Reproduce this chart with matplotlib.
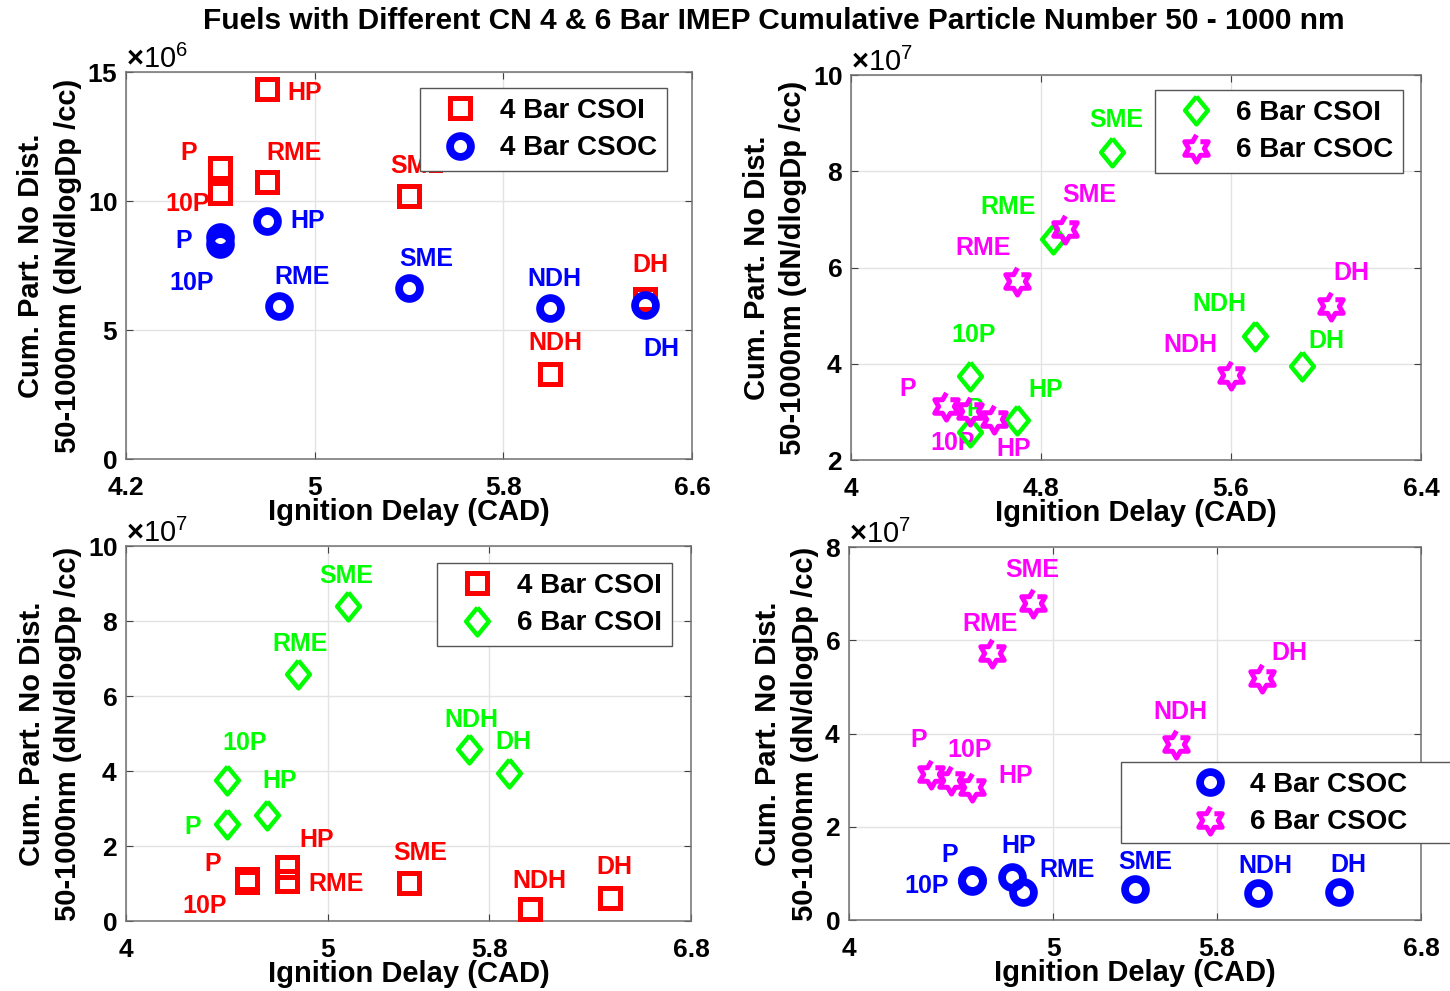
import numpy as np
import matplotlib
matplotlib.use('Agg')
import matplotlib.pyplot as plt
from matplotlib.patches import Rectangle

plt.rcParams['font.family'] = ['Liberation Sans', 'DejaVu Sans']
plt.rcParams['font.weight'] = 'bold'
plt.rcParams['mathtext.fontset'] = 'custom'
plt.rcParams['mathtext.rm'] = 'Liberation Sans'

# combustiveis (mesma ordem em todas as series)
fuels = ['P', '10P', 'HP', 'RME', 'SME', 'NDH', 'DH']

# atraso de ignicao (CAD) e numero de particulas (dN/dlogDp /cc)
id_4csoi = [4.60, 4.60, 4.80, 4.80, 5.40, 6.00, 6.40]
pn_4csoi = [1.127e7, 1.033e7, 1.433e7, 1.075e7, 1.019e7, 0.330e7, 0.620e7]

id_4csoc = [4.60, 4.60, 4.80, 4.85, 5.40, 6.00, 6.40]
pn_4csoc = [0.860e7, 0.835e7, 0.922e7, 0.592e7, 0.662e7, 0.584e7, 0.597e7]

id_6csoi = [4.50, 4.50, 4.70, 4.85, 5.10, 5.70, 5.90]
pn_6csoi = [2.58e7, 3.75e7, 2.83e7, 6.60e7, 8.41e7, 4.58e7, 3.96e7]

id_6csoc = [4.40, 4.50, 4.60, 4.70, 4.90, 5.60, 6.02]
pn_6csoc = [3.13e7, 3.01e7, 2.86e7, 5.72e7, 6.81e7, 3.77e7, 5.20e7]

series = {
    '4 Bar CSOI': (id_4csoi, pn_4csoi),
    '4 Bar CSOC': (id_4csoc, pn_4csoc),
    '6 Bar CSOI': (id_6csoi, pn_6csoi),
    '6 Bar CSOC': (id_6csoc, pn_6csoc),
}

# posicao dos rotulos de texto (x, y) em cada painel, mesma ordem de fuels
lab1_4csoi = [(4.43, 11.86e6), (4.365, 9.88e6), (4.886, 14.19e6), (4.797, 11.86e6),
              (5.319, 11.36e6), (5.907, 4.50e6), (6.348, 7.52e6)]
lab1_4csoc = [(4.41, 8.45e6), (4.386, 6.82e6), (4.899, 9.22e6), (4.83, 7.05e6),
              (5.357, 7.75e6), (5.903, 6.98e6), (6.395, 4.26e6)]
lab2_6csoi = [(4.485, 3.06e7), (4.421, 4.60e7), (4.745, 3.46e7), (4.543, 7.26e7),
              (5.002, 9.07e7), (5.436, 5.24e7), (5.924, 4.47e7)]
lab2_6csoc = [(4.202, 3.48e7), (4.333, 2.35e7), (4.61, 2.23e7), (4.438, 6.41e7),
              (4.888, 7.51e7), (5.314, 4.39e7), (6.03, 5.89e7)]
lab3_4csoi = [(4.387, 1.52e7), (4.277, 0.40e7), (4.857, 2.16e7), (4.902, 0.99e7),
              (5.323, 1.81e7), (5.913, 1.07e7), (6.329, 1.44e7)]
lab3_6csoi = [(4.29, 2.51e7), (4.476, 4.75e7), (4.674, 3.73e7), (4.723, 7.39e7),
              (4.956, 9.20e7), (5.576, 5.36e7), (5.829, 4.77e7)]
lab4_4csoc = [(4.45, 1.39e7), (4.27, 0.73e7), (4.744, 1.59e7), (4.93, 1.07e7),
              (5.317, 1.24e7), (5.904, 1.16e7), (6.354, 1.18e7)]
lab4_6csoc = [(4.299, 3.86e7), (4.48, 3.65e7), (4.729, 3.09e7), (4.553, 6.35e7),
              (4.764, 7.51e7), (5.488, 4.46e7), (6.07, 5.73e7)]

# marcadores estilo MATLAB
ang = np.deg2rad(np.arange(12) * 30 + 90)
rad = np.where(np.arange(12) % 2 == 0, 1.0, 1 / np.sqrt(3))
hexagram = np.column_stack([rad * np.cos(ang), rad * np.sin(ang)])
diamond = [(0, 1), (0.82, 0), (0, -1), (-0.82, 0), (0, 1)]

styles = {
    '4 Bar CSOI': dict(marker='s', ms=14.5, mew=3.6, color=(1, 0, 0)),
    '4 Bar CSOC': dict(marker='o', ms=15, mew=5.6, color=(0, 0, 1)),
    '6 Bar CSOI': dict(marker=diamond, ms=20, mew=3.2, color=(0, 1, 0)),
    '6 Bar CSOC': dict(marker=hexagram, ms=19.5, mew=3.6, color=(1, 0, 1)),
}

fig = plt.figure(figsize=(14.5, 9.91), dpi=100)
fig.text(0.534, 0.979, 'Fuels with Different CN 4 & 6 Bar IMEP Cumulative Particle Number 50 - 1000 nm',
         ha='center', va='center', fontsize=21.5, fontweight='bold')

ylab = 'Cum. Part. No Dist.\n50-1000nm (dN/dlogDp /cc)'


def painel(rect, names, labs, xlim, xticks, ylim, yticks, order, leg, caixa=None):
    ax = fig.add_axes(rect)
    lines = []
    for nm, lb in zip(names, labs):
        x, y = series[nm]
        st = styles[nm]
        ln, = ax.plot(x, y, linestyle='none', marker=st['marker'], markersize=st['ms'],
                      markeredgewidth=st['mew'], markeredgecolor=st['color'],
                      markerfacecolor='none', label=nm, zorder=4)
        lines.append(ln)
        for f, (tx, ty) in zip(fuels, lb):
            ax.text(tx, ty, f, color=st['color'], fontsize=18, fontweight='bold',
                    ha='left', va='center', zorder=3)
    ax.set_xlim(xlim)
    ax.set_ylim(ylim)
    ax.set_xticks(xticks)
    ax.set_xticklabels([f'{v:g}' for v in xticks])
    ax.set_yticks(yticks)
    ax.ticklabel_format(axis='y', style='sci', scilimits=(order, order), useMathText=True)
    ot = ax.yaxis.get_offset_text()
    ot.set_fontsize(21)
    ot.set_fontweight('normal')
    ax.grid(True, color='#e3e3e3', linewidth=1.0)
    ax.set_axisbelow(True)
    ax.tick_params(direction='in', top=True, right=True, length=5, width=0.8,
                   color='#404040', labelsize=19)
    ax.tick_params(axis='x', pad=12)
    ax.tick_params(axis='y', pad=6)
    for s in ax.spines.values():
        s.set_color('#707070')
        s.set_linewidth(1.1)
    ax.set_xlabel('Ignition Delay (CAD)', fontsize=21, fontweight='bold', labelpad=-1)
    ax.set_ylabel(ylab, fontsize=21, fontweight='bold', labelpad=4, linespacing=1.38)
    if caixa is not None:
        # moldura da legenda que passa da borda da figura (como no original)
        ax.add_patch(Rectangle((caixa[0], caixa[1]), caixa[2], caixa[3], transform=ax.transAxes,
                               facecolor='white', edgecolor='#555555', linewidth=1.0,
                               clip_on=False, zorder=5))
    lg = ax.legend(handles=lines, prop={'size': 20, 'weight': 'bold'}, fancybox=False,
                   framealpha=1, edgecolor='#555555', borderaxespad=0, borderpad=0.35,
                   labelspacing=0.42, handlelength=2.2, handletextpad=0.35,
                   frameon=caixa is None, **leg)
    lg.get_frame().set_linewidth(1.0)
    lg.set_zorder(6)
    return ax


painel([0.0869, 0.5368, 0.3903, 0.3905], ['4 Bar CSOI', '4 Bar CSOC'], [lab1_4csoi, lab1_4csoc],
       (4.2, 6.6), [4.2, 5, 5.8, 6.6], (0, 15e6), [0, 5e6, 10e6, 15e6], 6,
       dict(loc='upper right', bbox_to_anchor=(0.956, 0.959)))

painel([0.5869, 0.5358, 0.3931, 0.3885], ['6 Bar CSOI', '6 Bar CSOC'], [lab2_6csoi, lab2_6csoc],
       (4.0, 6.4), [4, 4.8, 5.6, 6.4], (2e7, 10e7), [2e7, 4e7, 6e7, 8e7, 10e7], 7,
       dict(loc='upper right', bbox_to_anchor=(0.968, 0.961)))

painel([0.0869, 0.0706, 0.3897, 0.3784], ['4 Bar CSOI', '6 Bar CSOI'], [lab3_4csoi, lab3_6csoi],
       (4.0, 6.8), [4, 5, 5.8, 6.8], (0, 10e7), [0, 2e7, 4e7, 6e7, 8e7, 10e7], 7,
       dict(loc='upper right', bbox_to_anchor=(0.966, 0.955)))

painel([0.5855, 0.0716, 0.3945, 0.3764], ['4 Bar CSOC', '6 Bar CSOC'], [lab4_4csoc, lab4_6csoc],
       (4.0, 6.8), [4, 5, 5.8, 6.8], (0, 8e7), [0, 2e7, 4e7, 6e7, 8e7], 7,
       dict(loc='upper left', bbox_to_anchor=(0.561, 0.424)),
       caixa=(0.475, 0.206, 0.6, 0.218))

fig.savefig('out.png', dpi=100)
